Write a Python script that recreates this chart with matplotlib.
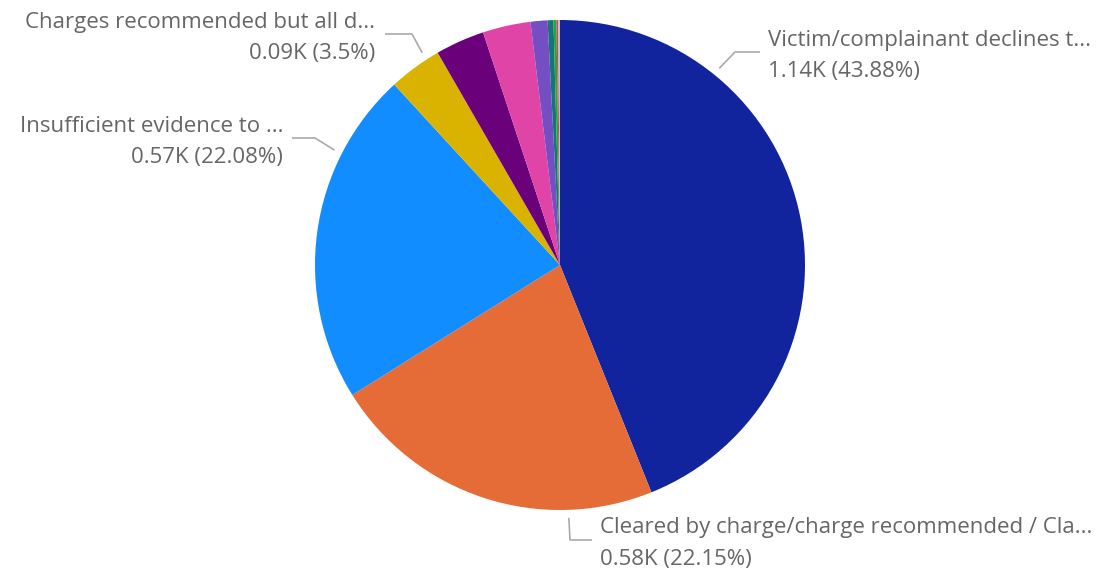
import numpy as np
import matplotlib.pyplot as plt

# data (counts), clockwise from 12 o'clock
categories = [
    "Victim/complainant declines t...",
    "Cleared by charge/charge recommended / Cla...",
    "Insufficient evidence to ...",
    "Charges recommended but all d...",
    "Other 1", "Other 2", "Other 3", "Other 4", "Other 5", "Other 6", "Other 7",
]
counts = [1140, 576, 573, 91, 84, 82, 29, 10, 5, 3, 3]
pct_labels = ["43.88%", "22.15%", "22.08%", "3.5%"]
colors = ["#12239E", "#E66C37", "#118DFF", "#D9B300", "#6B007B", "#E044A7",
          "#744EC2", "#197278", "#1AAB40", "#D64550", "#C8B8C8"]

W, H = 1109, 569
cx, cy, R = 560, H - 265, 245

fig = plt.figure(figsize=(W / 100, H / 100), dpi=100)
ax = fig.add_axes([0, 0, 1, 1])
ax.axis("off")

ax.pie(counts, colors=colors, startangle=90, counterclock=False,
       center=(cx, cy), radius=R, wedgeprops=dict(linewidth=0))
ax.set_xlim(0, W)
ax.set_ylim(0, H)

# label layout: angle of leader start (deg clockwise from top), elbow, end, text x, align
layout = [
    (39, (735, 52), (760, 52), 768, "left"),
    (178, (570, 540), (592, 540), 600, "left"),
    (297, (315, 138), (292, 138), 283, "right"),
    (327, (412, 34), (385, 34), 375, "right"),
]

font = dict(family="Open Sans", fontsize=16, color="#666666")
for i, (ang, elbow, end, tx, ha) in enumerate(layout):
    a = np.deg2rad(ang)
    sx, sy = cx + (R + 8) * np.sin(a), cy + (R + 8) * np.cos(a)
    ax.plot([sx, elbow[0], end[0]], [sy, H - elbow[1], H - end[1]],
            color="#aaaaaa", lw=1.2, solid_capstyle="butt")
    val = f"{counts[i] / 1000:.2f}K ({pct_labels[i]})"
    ty = H - end[1]
    ax.text(tx, ty + 12, categories[i], ha=ha, va="center", **font)
    ax.text(tx, ty - 19, val, ha=ha, va="center", **font)

fig.savefig("out.png", dpi=100, facecolor="white")
